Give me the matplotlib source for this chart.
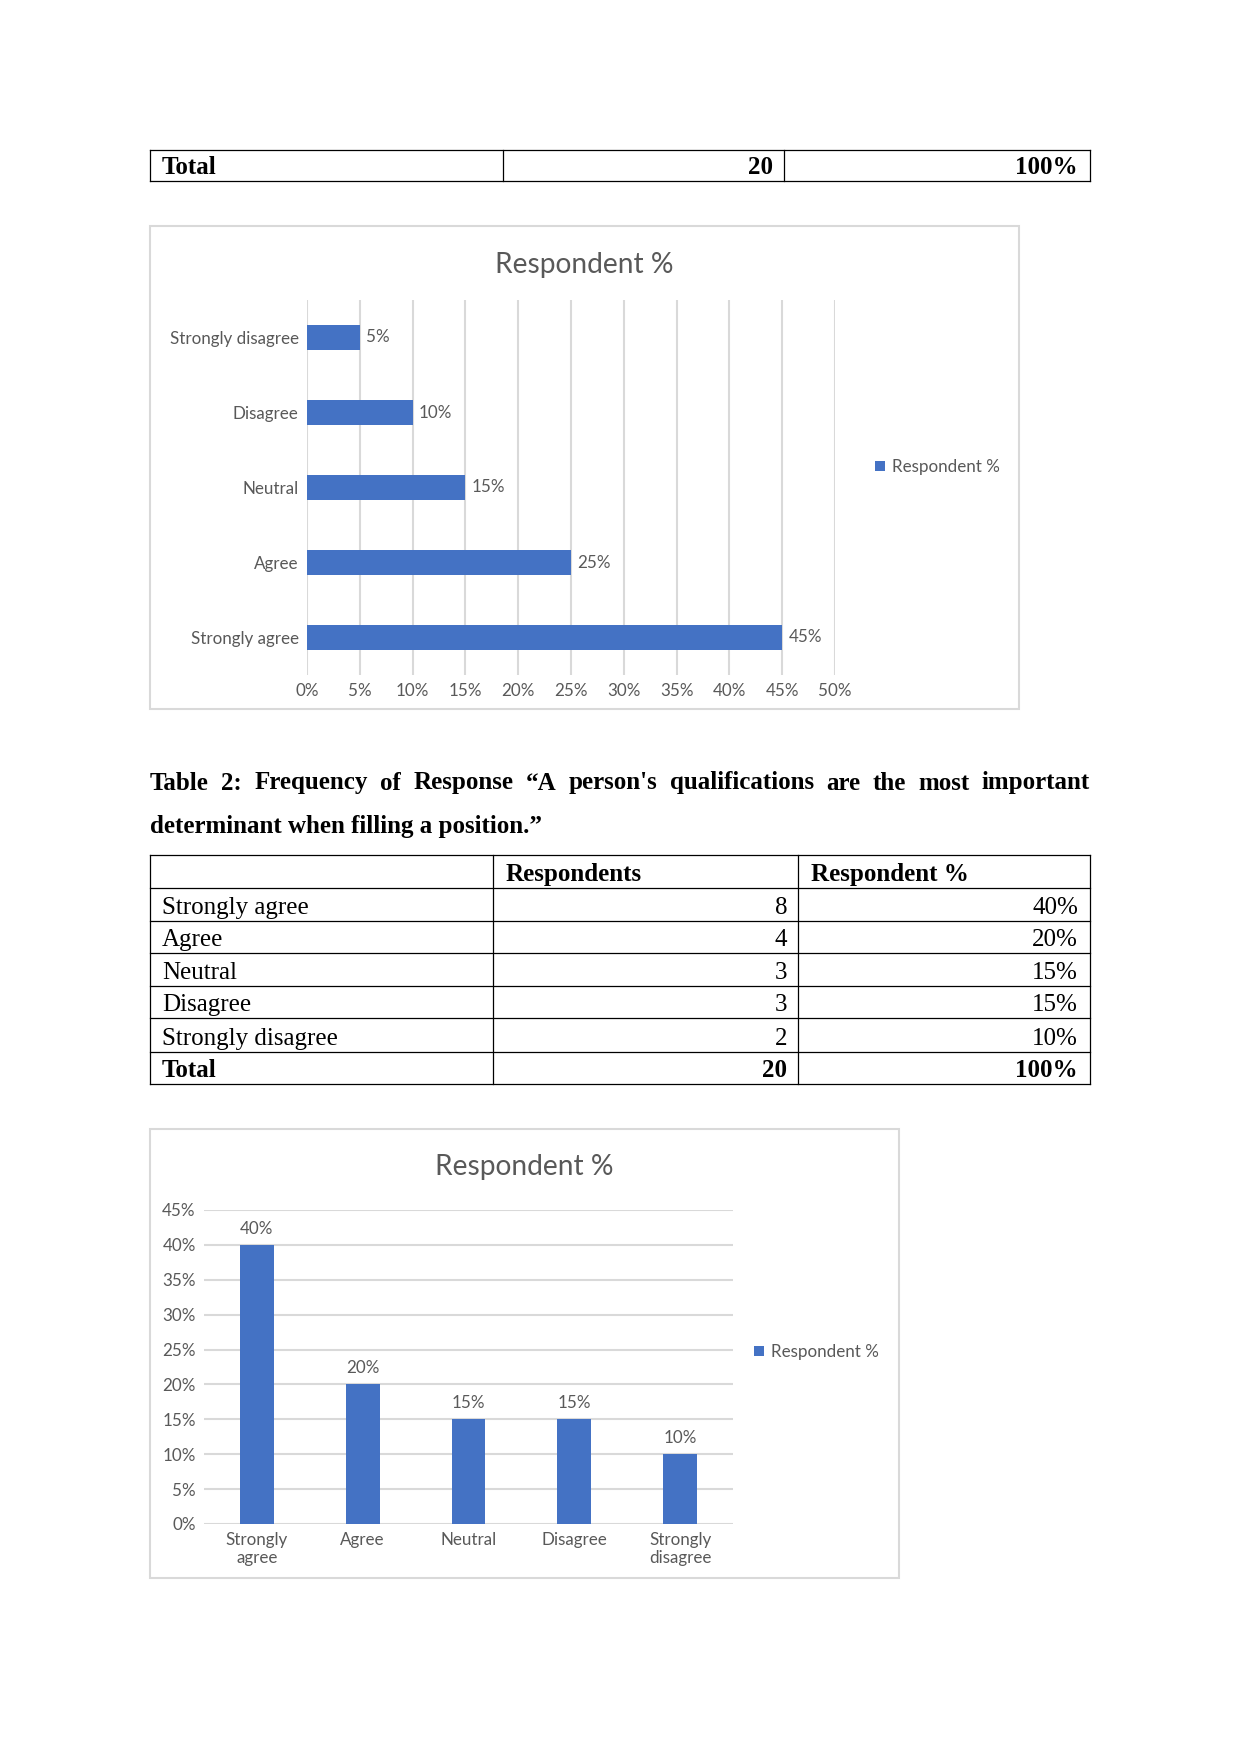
import matplotlib.pyplot as plt
from matplotlib.ticker import PercentFormatter

W, H = 1241, 1754
DPI = 150

# first chart (horizontal bars)
bar_cats = ['Strongly agree', 'Agree', 'Neutral', 'Disagree', 'Strongly disagree']
bar_pct = [45, 25, 15, 10, 5]

# table 2 and its chart
t2_cats = ['Strongly agree', 'Agree', 'Neutral', 'Disagree', 'Strongly disagree']
t2_counts = [8, 4, 3, 3, 2]
t2_pct = [40, 20, 15, 15, 10]
t2_headers = ['Respondents', 'Respondent %']
col_ticks = ['Strongly\nagree', 'Agree', 'Neutral', 'Disagree', 'Strongly\ndisagree']
total_count = 20
total_pct = '100%'
series_name = 'Respondent %'

caption1 = "Table 2: Frequency of Response \u201cA person's qualifications are the most important"
caption2 = "determinant when filling a position.\u201d"

BLUE = '#4472C4'
GRID = '#D9D9D9'
TXT = '#595959'
SERIF = 'Liberation Serif'
SANS = 'Lato'
FS = 8.2  # chart label size

fig = plt.figure(figsize=(W / DPI, H / DPI), dpi=DPI)
page = fig.add_axes([0, 0, 1, 1])
page.set_xlim(0, W)
page.set_ylim(H, 0)
page.axis('off')


def px_axes(x0, y0, x1, y1):
    return fig.add_axes([x0 / W, 1 - y1 / H, (x1 - x0) / W, (y1 - y0) / H])


def grid_table(xs, ys):
    for y in ys:
        page.plot([xs[0], xs[-1]], [y, y], color='black', lw=0.6)
    for x in xs:
        page.plot([x, x], [ys[0], ys[-1]], color='black', lw=0.6)


def chart_box(x0, y0, x1, y1):
    page.add_patch(plt.Rectangle((x0, y0), x1 - x0, y1 - y0, fill=False,
                                 edgecolor=GRID, lw=1))


# --- top "Total" row (end of previous table) ---
xs = [150, 503, 784, 1090]
ys = [150, 181]
grid_table(xs, ys)
page.text(xs[0] + 12, ys[1] - 7, 'Total', family=SERIF, fontsize=12, fontweight='bold')
page.text(xs[2] - 11, ys[1] - 7, str(total_count), family=SERIF, fontsize=12,
          fontweight='bold', ha='right')
page.text(xs[3] - 12, ys[1] - 7, total_pct, family=SERIF, fontsize=12,
          fontweight='bold', ha='right')

# --- chart 1 ---
chart_box(150, 226, 1019, 709)
page.text(584, 265, series_name, family=SANS, fontsize=13.5, color=TXT, ha='center', va='center')
ax1 = px_axes(307, 300, 835, 675)
pos = list(range(len(bar_cats)))
ax1.barh(pos, bar_pct, height=0.33, color=BLUE, label=series_name)
ax1.set_xlim(0, 50)
ax1.set_ylim(-0.5, len(bar_cats) - 0.5)
ax1.set_xticks(range(0, 55, 5))
ax1.xaxis.set_major_formatter(PercentFormatter(decimals=0))
ax1.set_yticks(pos, bar_cats)
ax1.grid(axis='x', color=GRID, lw=1)
ax1.set_axisbelow(True)
for s in ax1.spines.values():
    s.set_visible(False)
ax1.tick_params(length=0, colors=TXT, labelsize=FS, pad=4)
for label in ax1.get_xticklabels() + ax1.get_yticklabels():
    label.set_family(SANS)
for p, v in zip(pos, bar_pct):
    ax1.annotate(f'{v}%', (v, p), xytext=(3, 0), textcoords='offset points',
                 va='center', ha='left', fontsize=FS, color=TXT, family=SANS)
ax1.legend(loc='center left', bbox_to_anchor=(866 / W, 1 - 467 / H),
           bbox_transform=fig.transFigure, frameon=False, handlelength=0.6,
           handleheight=0.6, handletextpad=0.4, borderpad=0,
           prop={'family': SANS, 'size': FS}, labelcolor=TXT)

# --- caption (justified first line) ---
r = fig.canvas.get_renderer()
words = caption1.split()
arts = [page.text(0, 783, w, family=SERIF, fontsize=12, fontweight='bold', va='center')
        for w in words]
widths = [a.get_window_extent(r).width for a in arts]
gap = (1090 - 150 - sum(widths)) / (len(words) - 1)
x = 150
for a, w in zip(arts, widths):
    a.set_x(x)
    x += w + gap
page.text(150, 826, caption2, family=SERIF, fontsize=12, fontweight='bold', va='center')

# --- table 2 ---
xs = [150, 493, 798, 1090]
ys = [855, 888, 921, 953, 986, 1018, 1052, 1084]
grid_table(xs, ys)
page.text(xs[1] + 13, ys[1] - 7, t2_headers[0], family=SERIF, fontsize=12, fontweight='bold')
page.text(xs[2] + 13, ys[1] - 7, t2_headers[1], family=SERIF, fontsize=12, fontweight='bold')
for i, (c, n, p) in enumerate(zip(t2_cats, t2_counts, t2_pct)):
    yb = ys[i + 2] - 7
    page.text(xs[0] + 12, yb, c, family=SERIF, fontsize=12)
    page.text(xs[2] - 11, yb, str(n), family=SERIF, fontsize=12, ha='right')
    page.text(xs[3] - 12, yb, f'{p}%', family=SERIF, fontsize=12, ha='right')
yb = ys[-1] - 7
page.text(xs[0] + 12, yb, 'Total', family=SERIF, fontsize=12, fontweight='bold')
page.text(xs[2] - 11, yb, str(total_count), family=SERIF, fontsize=12, fontweight='bold', ha='right')
page.text(xs[3] - 12, yb, total_pct, family=SERIF, fontsize=12, fontweight='bold', ha='right')

# --- chart 2 ---
chart_box(150, 1129, 899, 1578)
page.text(524, 1167, series_name, family=SANS, fontsize=13.5, color=TXT, ha='center', va='center')
ax2 = px_axes(204, 1210, 733, 1524)
pos = list(range(len(t2_pct)))
ax2.bar(pos, t2_pct, width=0.32, color=BLUE, label=series_name)
ax2.set_xlim(-0.5, len(t2_pct) - 0.5)
ax2.set_ylim(0, 45)
ax2.set_yticks(range(0, 50, 5))
ax2.yaxis.set_major_formatter(PercentFormatter(decimals=0))
ax2.set_xticks(pos, col_ticks)
ax2.grid(axis='y', color=GRID, lw=1)
ax2.set_axisbelow(True)
for s in ax2.spines.values():
    s.set_visible(False)
ax2.tick_params(length=0, colors=TXT, labelsize=FS, pad=4)
for label in ax2.get_xticklabels() + ax2.get_yticklabels():
    label.set_family(SANS)
    label.set_linespacing(1.15)
for p, v in zip(pos, t2_pct):
    ax2.annotate(f'{v}%', (p, v), xytext=(0, 4), textcoords='offset points',
                 va='bottom', ha='center', fontsize=FS, color=TXT, family=SANS)
ax2.legend(loc='center left', bbox_to_anchor=(745 / W, 1 - 1352 / H),
           bbox_transform=fig.transFigure, frameon=False, handlelength=0.6,
           handleheight=0.6, handletextpad=0.4, borderpad=0,
           prop={'family': SANS, 'size': FS}, labelcolor=TXT)

fig.savefig('out.png', dpi=DPI)
